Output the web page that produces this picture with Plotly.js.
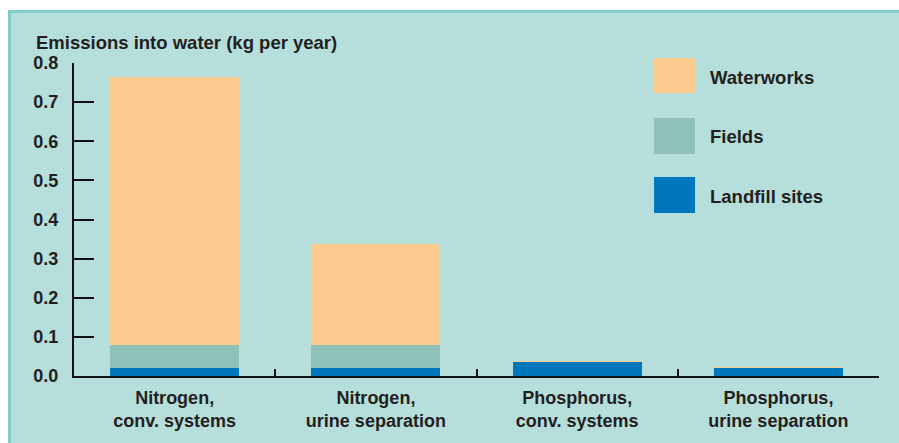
<!DOCTYPE html>
<html>
<head>
<meta charset="utf-8">
<script src="https://cdn.plot.ly/plotly-3.0.1.min.js"></script>
<style>
  html, body { margin: 0; padding: 0; background: #ffffff; width: 899px; height: 443px; overflow: hidden; }
  #panel { position: absolute; left: 8px; top: 10px; width: 900px; height: 440px;
           background: #b6dedb; border-left: 3px solid #7fcfcc; border-top: 3px solid #7fcfcc; }
  #chart { position: absolute; left: 0; top: 0; width: 899px; height: 443px; }
</style>
</head>
<body>
<div id="panel"></div>
<div id="chart"></div>
<script>
const categories = ["Nitrogen,<br>conv. systems", "Nitrogen,<br>urine separation",
                    "Phosphorus,<br>conv. systems", "Phosphorus,<br>urine separation"];
const seriesNames = ["Landfill sites", "Fields", "Waterworks"];
const landfill   = [0.020, 0.020, 0.036, 0.021];
const fields     = [0.058, 0.058, 0.000, 0.000];
const waterworks = [0.685, 0.259, 0.003, 0.002];
const colors = ["#0077bc", "#8fc1b9", "#fcc98f"];

const FONT = "Liberation Sans, Arial, Helvetica, sans-serif";
const TXT = "#231f20";

const values = [landfill, fields, waterworks];
const traces = values.map((v, i) => ({
  type: "bar", x: categories, y: v, name: seriesNames[i],
  marker: { color: colors[i], line: { width: 0 } },
  width: 0.64, hoverinfo: "skip", showlegend: false
}));

// custom legend (large swatches), top item = Waterworks
const legendOrder = [2, 1, 0];
const swatchY = [[0.904, 1.016], [0.709, 0.824], [0.521, 0.636]];
const textY = [0.955, 0.764, 0.575];
const shapes = legendOrder.map((s, k) => ({
  type: "rect", xref: "paper", yref: "paper",
  x0: 0.7205, x1: 0.7714, y0: swatchY[k][0], y1: swatchY[k][1],
  fillcolor: colors[s], line: { width: 0 }
}));
const annotations = legendOrder.map((s, k) => ({
  xref: "paper", yref: "paper", x: 0.788, y: textY[k],
  xanchor: "left", yanchor: "middle", showarrow: false,
  text: "<b>" + seriesNames[s] + "</b>",
  font: { family: FONT, size: 18.5, color: TXT }
}));

const layout = {
  width: 899, height: 443,
  paper_bgcolor: "rgba(0,0,0,0)", plot_bgcolor: "rgba(0,0,0,0)",
  margin: { l: 74, r: 20, t: 63, b: 67, pad: 0 },
  barmode: "stack", bargap: 0.36,
  font: { family: FONT, size: 18, color: TXT },
  title: {
    text: "<b>Emissions into water (kg per year)</b>",
    xref: "container", yref: "container", x: 36 / 899, xanchor: "left",
    y: 1 - 43 / 443, yanchor: "middle",
    font: { family: FONT, size: 18.5, color: TXT }
  },
  xaxis: {
    type: "category", tickson: "boundaries",
    ticks: "inside", ticklen: 7, tickwidth: 2, tickcolor: "#111",
    showline: true, linewidth: 2, linecolor: "#111",
    showgrid: false, zeroline: false,
    ticklabelstandoff: 4,
    tickfont: { family: FONT, size: 18, color: TXT },
    tickvals: categories,
    ticktext: categories.map(c => "<b>" + c.replace("<br>", "</b><br><b>") + "</b>"),
    fixedrange: true
  },
  yaxis: {
    range: [0, 0.8], dtick: 0.1, tick0: 0, tickformat: ".1f",
    ticks: "inside", ticklen: 20, tickwidth: 2, tickcolor: "#111",
    showline: true, linewidth: 2, linecolor: "#111",
    showgrid: false, zeroline: false,
    ticklabelstandoff: 10,
    tickfont: { family: FONT, size: 18, color: TXT },
    tickprefix: "<b>", ticksuffix: "</b>",
    fixedrange: true
  },
  shapes: shapes,
  annotations: annotations
};

Plotly.newPlot("chart", traces, layout, { displayModeBar: false, staticPlot: true });
</script>
</body>
</html>
